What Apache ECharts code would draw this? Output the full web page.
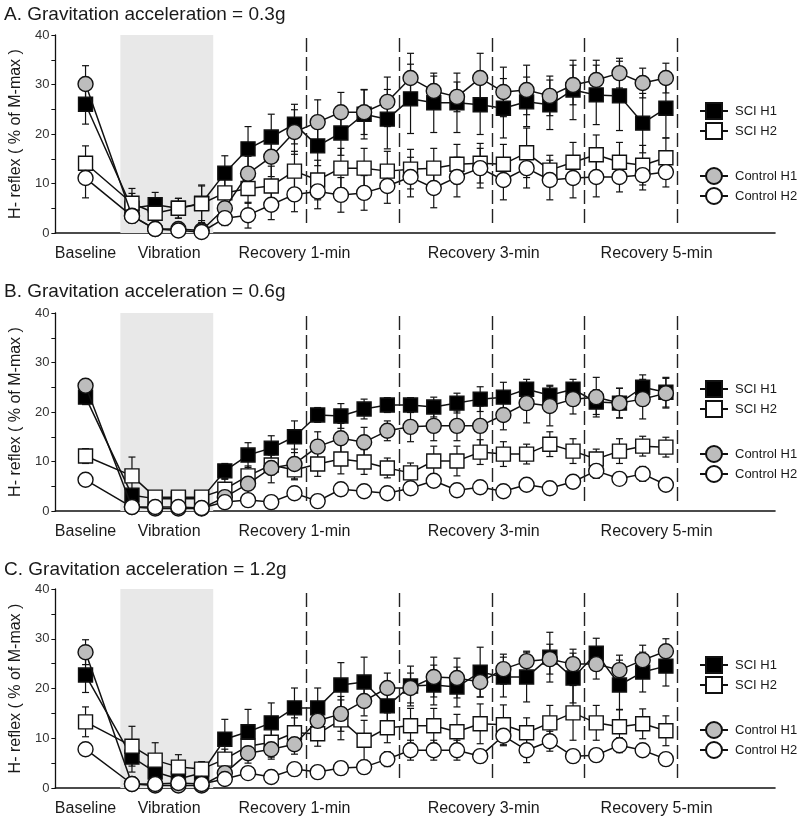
<!DOCTYPE html>
<html><head><meta charset="utf-8">
<script src="https://cdn.jsdelivr.net/npm/echarts@6/dist/echarts.min.js"></script>
<style>html,body{margin:0;padding:0;background:#fff}#c{width:800px;height:827px}</style>
</head><body><div id="c"></div>
<script>
// time index of each measurement (0 = baseline, 2-5 = vibration, 6-25 = recovery)
const timeIdx = [0, 2, 3, 4, 5, 6, 7, 8, 9, 10, 11, 12, 13, 14, 15, 16, 17, 18, 19, 20, 21, 22, 23, 24, 25];
const seriesNames = ['SCI H1', 'SCI H2', 'Control H1', 'Control H2'];
const panelTitles = ['A. Gravitation acceleration = 0.3g', 'B. Gravitation acceleration = 0.6g', 'C. Gravitation acceleration = 1.2g'];
const phaseLabels = ['Baseline', 'Vibration', 'Recovery 1-min', 'Recovery 3-min', 'Recovery 5-min'];
const phaseLabelAt = [0, 3.6, 9, 17.15, 24.6];
const yTicks = [0, 10, 20, 30, 40];
const phaseBreaks = [9.5, 13.5, 17.5, 21.5, 25.5];
const vibrationSpan = [1.5, 5.5];

// Panel A (0.3g)
const a_sciH1 = [26, 5, 5.7, 5, 6, 12.1, 17, 19.4, 22, 17.6, 20.2, 24, 23, 27.1, 26.3, 26.3, 25.9, 25.2, 26.5, 25.9, 28.9, 27.9, 27.7, 22.2, 25.2];
const a_sciH1_err = [4, 3, 2.5, 2, 3.5, 3.5, 4.5, 4.6, 4, 4, 4.5, 5, 6, 7, 6, 6, 6, 6, 5, 5, 6, 6, 7, 6, 6];
const a_sciH2 = [14.1, 6, 4, 5, 5.9, 8.1, 9, 9.5, 12.5, 10.7, 13.1, 13.1, 12.5, 12.9, 13.1, 13.9, 14.1, 13.9, 16.2, 12.7, 14.3, 15.8, 14.3, 13.7, 15.2];
const a_sciH2_err = [3.5, 3, 2.5, 2, 3.8, 3, 3, 4, 4, 4, 4, 4, 4, 4, 4, 4, 4, 4, 5, 3, 4, 4, 4, 4, 4];
const a_ctlH1 = [30.1, 3.5, 0.8, 0.8, 0.5, 5, 12, 15.4, 20.4, 22.4, 24.4, 24.4, 26.5, 31.3, 28.7, 27.5, 31.3, 28.5, 28.9, 27.7, 29.9, 30.9, 32.3, 30.3, 31.3];
const a_ctlH1_err = [3.7, 1, 1, 1, 1, 2, 3.5, 4, 4.5, 4.5, 4, 4.5, 5, 5, 3, 3, 5, 5, 5, 4, 4, 4, 3, 3, 3];
const a_ctlH2 = [11.1, 3.4, 0.8, 0.5, 0.2, 3, 3.6, 5.7, 7.8, 8.4, 7.7, 8.1, 9.5, 11.3, 9.1, 11.3, 13.1, 10.7, 13.1, 10.7, 11.1, 11.3, 11.3, 11.7, 12.3];
const a_ctlH2_err = [4, 1, 1, 1, 1, 1.5, 2.6, 3, 3.5, 3.5, 3.5, 3.5, 3.5, 4, 4, 4, 4, 4, 4, 4, 4, 4, 3, 3, 3];

// Panel B (0.6g)
const b_sciH1 = [23.0, 3.2, 2.5, 2.5, 2.5, 8.1, 11.3, 12.7, 15, 19.4, 19.2, 20.6, 21.4, 21.4, 21.0, 21.8, 22.6, 23.0, 24.6, 23.4, 24.6, 22.0, 21.8, 25.0, 24.0];
const b_sciH1_err = [1.5, 1, 1, 1, 1, 1.5, 2.5, 2.5, 3.2, 1.5, 2.5, 2, 1.5, 1.5, 2, 2, 2.5, 3, 2, 2, 2, 2.5, 3, 2.5, 3];
const b_sciH2 = [11.1, 7.1, 2.8, 2.8, 2.8, 4.4, 7.1, 9.3, 8.3, 9.5, 10.5, 9.9, 8.7, 7.7, 10.1, 10.1, 11.9, 11.5, 11.5, 13.5, 12.1, 10.5, 12.1, 13.1, 12.9];
const b_sciH2_err = [1.5, 3.8, 1, 1, 1, 2, 2, 2, 2, 2.5, 3, 2.5, 2, 2, 3, 3, 2.5, 2.5, 2, 2.5, 2.5, 2, 2.5, 2, 2];
const b_ctlH1 = [25.3, 0.8, 0.5, 0.5, 0.5, 2.8, 5.5, 8.7, 9.5, 13, 14.7, 13.9, 16.2, 17, 17.2, 17.2, 17.2, 19.4, 21.8, 21.2, 22.6, 23, 21.8, 22.6, 23.8];
const b_ctlH1_err = [1, 0.5, 0.5, 0.5, 0.5, 1, 2, 3, 3, 3, 3, 3, 2, 3, 3, 3, 4, 3, 4, 4, 3, 4, 3, 4, 3];
const b_ctlH2 = [6.3, 0.8, 0.8, 0.8, 0.6, 1.8, 2.2, 1.8, 3.6, 2.0, 4.4, 4.0, 3.6, 4.6, 6.1, 4.2, 4.8, 4.0, 5.3, 4.6, 5.9, 8.1, 6.5, 7.5, 5.3];
const b_ctlH2_err = [1, 0.5, 0.5, 0.5, 0.5, 0.8, 0.8, 0.8, 1, 1, 1, 1, 1, 1, 1, 1, 1, 1, 1, 1, 1, 1.5, 1, 1.5, 1];

// Panel C (1.2g)
const c_sciH1 = [22.7, 6.2, 3.2, 1.8, 3, 9.8, 11.3, 13.1, 16.1, 16.1, 20.7, 21.3, 16.5, 20.5, 20.7, 20.3, 23.3, 22.3, 22.3, 26.3, 22.1, 27.1, 20.7, 23.3, 24.5];
const c_sciH1_err = [3.5, 3, 3, 2, 2, 4, 4.5, 4, 4, 4, 4.5, 5, 4, 4, 4, 4, 5, 4, 5, 5, 5, 3, 5, 4, 4];
const c_sciH2 = [13.3, 8.4, 5.6, 4.2, 3.8, 5.8, 8.4, 9.2, 11.1, 10.9, 13.7, 9.6, 12.1, 12.5, 12.5, 11.3, 12.9, 12.7, 11.1, 13.1, 15.1, 13.1, 12.3, 12.9, 11.5];
const c_sciH2_err = [3, 4, 3.5, 2.5, 1.5, 2, 2.5, 3, 3, 2.5, 4, 4, 3, 3.5, 3.5, 3.5, 4, 4, 3, 3.5, 5.5, 3.5, 3.5, 3, 3];
const c_ctlH1 = [27.3, 0.8, 0.5, 0.5, 0.5, 3, 7, 7.8, 8.8, 13.5, 14.9, 17.5, 20.1, 20.1, 22.3, 22.1, 21.3, 23.9, 25.5, 25.9, 24.9, 24.9, 23.7, 25.7, 27.5];
const c_ctlH1_err = [2.5, 0.5, 0.5, 0.5, 0.5, 1, 2, 2, 2, 3, 3.5, 3, 3, 3, 4, 4, 3, 3, 2, 3, 3, 3, 3, 3, 2.5];
const c_ctlH2 = [7.8, 0.8, 0.8, 1.0, 0.8, 1.8, 3.0, 2.2, 3.8, 3.2, 4.0, 4.2, 5.8, 7.6, 7.6, 7.6, 6.4, 10.5, 7.6, 9.4, 6.4, 6.6, 8.6, 7.6, 5.8];
const c_ctlH2_err = [1, 0.5, 0.5, 0.5, 0.5, 1, 1, 1, 1, 1, 1, 1, 1.5, 2, 2, 2, 1, 2, 2.5, 2, 1, 1, 1.5, 1, 1];

const panels = [
  [[a_sciH1, a_sciH1_err], [a_sciH2, a_sciH2_err], [a_ctlH1, a_ctlH1_err], [a_ctlH2, a_ctlH2_err]],
  [[b_sciH1, b_sciH1_err], [b_sciH2, b_sciH2_err], [b_ctlH1, b_ctlH1_err], [b_ctlH2, b_ctlH2_err]],
  [[c_sciH1, c_sciH1_err], [c_sciH2, c_sciH2_err], [c_ctlH1, c_ctlH1_err], [c_ctlH2, c_ctlH2_err]]
];

const FONT = '"Liberation Sans", Arial, sans-serif';
const gridTops = [35, 313, 589];
const gridHeights = [198, 198, 199];
const titleTops = [5, 282, 560];
const styles = [
  { symbol: 'rect', size: 14, fill: '#000' },
  { symbol: 'rect', size: 14, fill: '#fff' },
  { symbol: 'circle', size: 15, fill: '#bdbdbd' },
  { symbol: 'circle', size: 15, fill: '#fff' }
];

function renderErr(params, api) {
  const x = api.value(0), y = api.value(1), e = api.value(2);
  if (!e) return null;
  const lo = Math.max(0, y - e), hi = y + e;
  const p1 = api.coord([x, hi]), p0 = api.coord([x, lo]);
  const hw = 3.5, st = { stroke: '#111', lineWidth: 1.2 };
  return { type: 'group', children: [
    { type: 'line', shape: { x1: p0[0], y1: p0[1], x2: p1[0], y2: p1[1] }, style: st },
    { type: 'line', shape: { x1: p1[0] - hw, y1: p1[1], x2: p1[0] + hw, y2: p1[1] }, style: st },
    { type: 'line', shape: { x1: p0[0] - hw, y1: p0[1], x2: p0[0] + hw, y2: p0[1] }, style: st }
  ]};
}

const grid = [], xAxis = [], yAxis = [], series = [], title = [], legend = [];
panels.forEach((panel, p) => {
  grid.push({ left: 53, right: 25, top: gridTops[p], height: gridHeights[p] });
  title.push({ text: panelTitles[p], left: 4, top: titleTops[p], padding: 0,
    textStyle: { fontFamily: FONT, fontSize: 19, fontWeight: 'normal', color: '#1a1a1a' } });
  xAxis.push({ gridIndex: p, type: 'value', min: -1.3, max: 29.7,
    axisLine: { show: true, onZero: false, lineStyle: { color: '#111', width: 1.6 } },
    axisTick: { show: false }, splitLine: { show: false },
    axisLabel: { customValues: phaseLabelAt, margin: 13, fontFamily: FONT, fontSize: 16, color: '#1a1a1a',
      formatter: v => { const k = phaseLabelAt.findIndex(t => Math.abs(t - v) < 0.01); return k >= 0 ? phaseLabels[k] : ''; } } });
  yAxis.push({ gridIndex: p, type: 'value', min: 0, max: 40, interval: 5,
    name: 'H- reflex ( % of M-max )', nameLocation: 'middle', nameRotate: 90, nameGap: 28,
    nameTextStyle: { fontFamily: FONT, fontSize: 16, color: '#1a1a1a' },
    axisLine: { show: true, onZero: false, lineStyle: { color: '#111', width: 1.3 } },
    axisTick: { show: true, inside: false, length: 4, lineStyle: { color: '#111' } },
    splitLine: { show: false },
    axisLabel: { margin: 6, fontFamily: FONT, fontSize: 13, color: '#333',
      formatter: v => yTicks.indexOf(v) >= 0 ? String(v) : '' } });
  // background: vibration shading and phase separators
  series.push({ type: 'line', xAxisIndex: p, yAxisIndex: p, data: [], silent: true, z: 0,
    markArea: { silent: true, itemStyle: { color: '#e8e8e8' },
      data: [[{ coord: [vibrationSpan[0], 0] }, { coord: [vibrationSpan[1], 40] }]] },
    markLine: { silent: true, symbol: 'none', label: { show: false },
      lineStyle: { color: '#222', width: 1.4, type: [14, 5] },
      data: phaseBreaks.map(b => [{ coord: [b, 2] }, { coord: [b, 40] }]) } });
  panel.forEach(([vals, errs], g) => {
    series.push({ type: 'custom', xAxisIndex: p, yAxisIndex: p, z: 1, silent: true,
      renderItem: renderErr, encode: { x: 0, y: 1 },
      data: vals.map((v, i) => [timeIdx[i], v, errs[i]]) });
  });
  panel.forEach(([vals], g) => {
    const s = styles[g];
    series.push({ name: seriesNames[g], type: 'line', xAxisIndex: p, yAxisIndex: p, z: 2 + g * 0.01,
      clip: false, symbol: s.symbol, symbolSize: s.size, showAllSymbol: true,
      lineStyle: { color: '#111', width: 1.5 },
      itemStyle: { color: s.fill, borderColor: '#111', borderWidth: 1.4 },
      emphasis: { disabled: true },
      data: vals.map((v, i) => [timeIdx[i], v]) });
  });
  const lg = { orient: 'vertical', left: 694, itemWidth: 28, itemHeight: 20, itemGap: 2,
    selectedMode: false, textStyle: { fontFamily: FONT, fontSize: 13, color: '#1a1a1a', padding: [0, 0, 0, 2] } };
  legend.push(Object.assign({}, lg, { top: gridTops[p] + 62, data: ['SCI H1', 'SCI H2'] }));
  legend.push(Object.assign({}, lg, { top: gridTops[p] + 127, data: ['Control H1', 'Control H2'] }));
});

const chart = echarts.init(document.getElementById('c'), null, { renderer: 'canvas' });
chart.setOption({ animation: false, backgroundColor: '#fff', title, grid, xAxis, yAxis, legend, series });
</script>
</body></html>
